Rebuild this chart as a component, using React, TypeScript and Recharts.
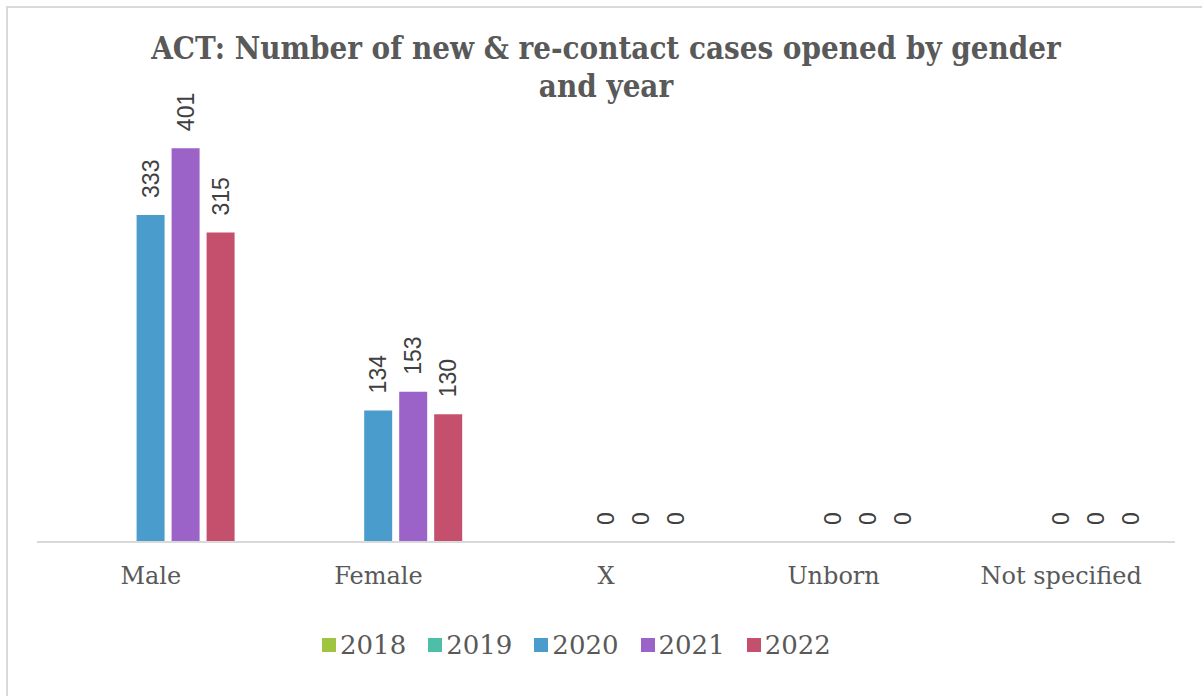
import React from "react";
import { BarChart, Bar, XAxis, YAxis, Rectangle } from "recharts";

const categories = ["Male", "Female", "X", "Unborn", "Not specified"];
const years = ["2018", "2019", "2020", "2021", "2022"];
const v2018: (number | null)[] = [null, null, null, null, null];
const v2019: (number | null)[] = [null, null, null, null, null];
const v2020 = [333, 134, 0, 0, 0];
const v2021 = [401, 153, 0, 0, 0];
const v2022 = [315, 130, 0, 0, 0];

const COLORS: Record<string, string> = {
  "2018": "#9fc540",
  "2019": "#4dbfa6",
  "2020": "#4a9ccc",
  "2021": "#9b63c8",
  "2022": "#c4506e",
};

const data = categories.map((name, i) => ({
  name,
  "2018": v2018[i],
  "2019": v2019[i],
  "2020": v2020[i],
  "2021": v2021[i],
  "2022": v2022[i],
}));

const SERIF = "'DejaVu Serif', serif";
const SANS = "'Liberation Sans', Arial, sans-serif";

// bar plus rotated value label above it (zero bars still get a "0")
const makeShape = (yr: string) => (props: any) => {
  const { x, y, width, height, payload, fill } = props;
  const value = payload ? payload[yr] : null;
  if (value == null) return <g />;
  const cx = Number(x) + Number(width) / 2;
  const top = Math.min(Number(y), Number(y) + Number(height));
  const cy = top - 17;
  return (
    <g>
      {Number(height) !== 0 && (
        <Rectangle x={x} y={y} width={width} height={height} fill={fill} />
      )}
      <text
        x={cx}
        y={cy}
        dy="0.35em"
        transform={`rotate(-90 ${cx} ${cy})`}
        textAnchor="start"
        fontFamily={SANS}
        fontSize={23}
        fill="#404040"
      >
        {value}
      </text>
    </g>
  );
};

function CatTick(props: any) {
  const { x, payload } = props;
  return (
    <text x={x} y={584} textAnchor="middle" fontFamily={SERIF} fontSize={24} fill="#595959">
      {payload.value}
    </text>
  );
}

export default function App() {
  return (
    <div style={{ position: "fixed", left: 0, top: 0, width: 1202, height: 696, background: "#fff", overflow: "hidden" }}>
      <div
        style={{
          position: "absolute",
          left: 6,
          top: 6,
          width: 1300,
          height: 800,
          borderTop: "2px solid #d9d9d9",
          borderLeft: "2px solid #d9d9d9",
        }}
      />
      <div
        style={{
          position: "absolute",
          left: 0,
          top: 29,
          width: 1212,
          textAlign: "center",
          fontFamily: "'DejaVu Serif Condensed', 'DejaVu Serif', serif",
          fontWeight: "bold",
          fontSize: 31,
          lineHeight: "38px",
          color: "#595959",
        }}
      >
        ACT: Number of new &amp; re-contact cases opened by gender
        <br />
        and year
      </div>
      <div style={{ position: "absolute", left: 0, top: 0 }}>
        <BarChart
          width={1202}
          height={696}
          data={data}
          margin={{ top: 100, right: 27, bottom: 114, left: 37 }}
          barCategoryGap="13%"
          barGap={7}
        >
          <XAxis
            dataKey="name"
            axisLine={{ stroke: "#d9d9d9", strokeWidth: 2 }}
            tickLine={false}
            tickSize={0}
            height={40}
            tick={CatTick}
            interval={0}
          />
          <YAxis hide domain={[0, 450]} />
          {years.map((yr) => (
            <Bar key={yr} dataKey={yr} fill={COLORS[yr]} isAnimationActive={false} shape={makeShape(yr)} />
          ))}
        </BarChart>
      </div>
      <div
        style={{
          position: "absolute",
          left: 322,
          top: 630,
          display: "flex",
          alignItems: "center",
          fontFamily: SERIF,
          fontSize: 26,
          color: "#595959",
        }}
      >
        {years.map((yr) => (
          <div key={yr} style={{ display: "flex", alignItems: "center", marginRight: 22 }}>
            <div style={{ width: 14, height: 14, background: COLORS[yr], marginRight: 4 }} />
            <span>{yr}</span>
          </div>
        ))}
      </div>
    </div>
  );
}
